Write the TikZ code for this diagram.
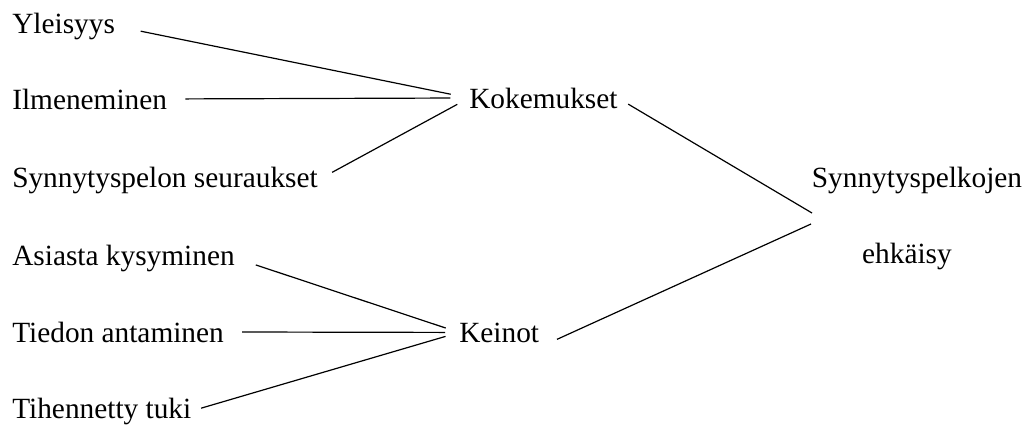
\documentclass[tikz,border=0pt]{standalone}
\usepackage{fontspec}
\setmainfont{Liberation Serif}
\begin{document}
\begin{tikzpicture}[x=0.75pt,y=-0.75pt,
  lbl/.style={font=\fontsize{22}{26}\selectfont, inner sep=0pt, anchor=base west},
  conn/.style={line width=0.9pt, black}]
\useasboundingbox (0,0) rectangle (1034,429);
\node[lbl] (yl) at (12,33) {Yleisyys};
\node[lbl] (il) at (12,109) {Ilmeneminen};
\node[lbl] (se) at (12,187) {Synnytyspelon seuraukset};
\node[lbl] (as) at (12,265) {Asiasta kysyminen};
\node[lbl] (ti) at (12,342) {Tiedon antaminen};
\node[lbl] (tu) at (12,418) {Tihennetty tuki};
\node[lbl] (ko) at (469,108) {Kokemukset};
\node[lbl] (ke) at (459,342) {Keinot};
\node[lbl, anchor=base] (sy) at (917,187) {Synnytyspelkojen};
\node[lbl, anchor=base] (eh) at (907,263) {ehkäisy};
\coordinate (p1) at (812,213);
\coordinate (p2) at (811,224);
\draw[conn, shorten <=19.5pt, shorten >=14pt] (yl.east) -- (ko.west);
\draw[conn, shorten <=13.5pt, shorten >=14pt] (il.east) -- (ko.west);
\draw[conn, shorten <=12pt, shorten >=10pt] (se.east) -- (ko.west);
\draw[conn, shorten <=16.5pt, shorten >=10.5pt] (as.east) -- (ke.west);
\draw[conn, shorten <=13.5pt, shorten >=10.5pt] (ti.east) -- (ke.west);
\draw[conn, shorten <=7.5pt, shorten >=10.5pt] (tu.east) -- (ke.west);
\draw[conn, shorten <=9pt] (ko.east) -- (p1);
\draw[conn, shorten <=14.5pt] ([yshift=-4pt]ke.base east) -- (p2);
\end{tikzpicture}
\end{document}
